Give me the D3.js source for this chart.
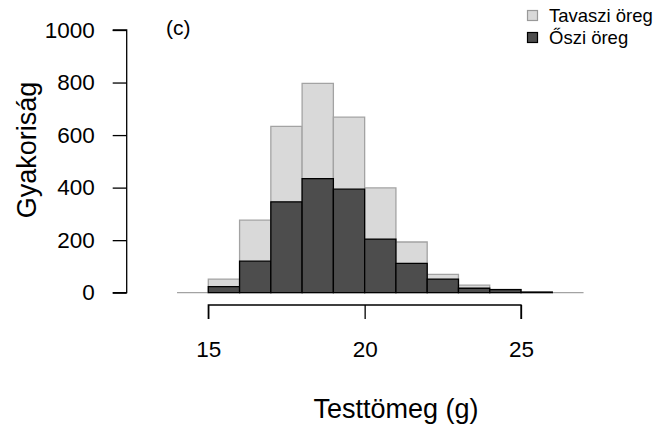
<!DOCTYPE html>
<html><head><meta charset="utf-8">
<script src="https://cdn.jsdelivr.net/npm/d3@7"></script>
<style>body{margin:0;background:#fff}svg{display:block}text{font-family:"Liberation Sans",Arial,sans-serif;fill:#000}</style>
</head><body><svg id="c" width="661" height="426"></svg>
<script>
// bin lower edges (g)
const springBins = [14,15,16,17,18,19,20,21,22,23,24,25,26];
const springCounts = [0,52,276,633,797,668,399,193,70,29,13,3,0];
const autumnBins = [15,16,17,18,19,20,21,22,23,24,25];
const autumnCounts = [23,120,346,434,394,204,112,52,17,12,2];
const binWidth = 1;
const xTicks = [15,20,25];
const yTicks = [0,200,400,600,800,1000];
const legendLabels = ["Tavaszi öreg","Őszi öreg"];
const colors = {spring:"#d9d9d9", springStroke:"#a3a3a3", autumn:"#4d4d4d", autumnStroke:"#000"};

const svg = d3.select("#c");
const x = d3.scaleLinear().domain([15,25]).range([208.3,521]);
const y = d3.scaleLinear().domain([0,1000]).range([292.7,30]);

function drawHist(bins, counts, fill, stroke){
  svg.append("g").selectAll("path").data(bins.map((b,i)=>({b,c:counts[i]}))).join("path")
    .attr("d",d=>{const x0=x(d.b),x1=x(d.b+binWidth),y0=y(0),y1=y(d.c);
      return `M${x0},${y0}V${y1}H${x1}V${y0}Z`;})
    .attr("fill",fill).attr("stroke",stroke).attr("stroke-width",1.3);
}
drawHist(springBins, springCounts, colors.spring, colors.springStroke);
drawHist(autumnBins, autumnCounts, colors.autumn, colors.autumnStroke);

// y axis
const ya = svg.append("g").attr("transform","translate(126.7,0)")
  .call(d3.axisLeft(y).tickValues(yTicks).tickSize(14).tickPadding(18).tickFormat(d3.format("d")));
ya.select(".domain").attr("d",`M-14,${y(1000)}H0V${y(0)}H-14`).attr("stroke","#000").attr("stroke-width",1.3);
ya.selectAll(".tick line").attr("stroke","#000").attr("stroke-width",1.3);
ya.selectAll(".tick text").attr("font-size",22.5).attr("font-family","Liberation Sans, Arial, sans-serif").attr("fill","#000");

// x axis
const xa = svg.append("g").attr("transform","translate(0,305)")
  .call(d3.axisBottom(x).tickValues(xTicks).tickSize(14).tickPadding(22));
xa.select(".domain").attr("d",`M${x(15)},14V0H${x(25)}V14`).attr("stroke","#000").attr("stroke-width",1.3);
xa.selectAll(".tick line").attr("stroke","#000").attr("stroke-width",1.3);
xa.selectAll(".tick text").attr("font-size",22.5).attr("font-family","Liberation Sans, Arial, sans-serif").attr("fill","#000");

// axis titles
svg.append("text").attr("x",396).attr("y",418).attr("text-anchor","middle").attr("font-size",27).text("Testtömeg (g)");
svg.append("text").attr("transform","translate(36,150) rotate(-90)").attr("text-anchor","middle").attr("font-size",27).text("Gyakoriság");

// panel label
svg.append("text").attr("x",166).attr("y",35).attr("font-size",21).text("(c)");

// legend
const leg = svg.append("g");
[[colors.spring,colors.springStroke],[colors.autumn,colors.autumnStroke]].forEach((c,i)=>{
  leg.append("rect").attr("x",527.5).attr("y",10.5+i*22).attr("width",10).attr("height",10)
    .attr("fill",c[0]).attr("stroke",i?"#000":"#999").attr("stroke-width",1.2);
  leg.append("text").attr("x",549).attr("y",22+i*22).attr("font-size",18.5).text(legendLabels[i]);
});
</script></body></html>
